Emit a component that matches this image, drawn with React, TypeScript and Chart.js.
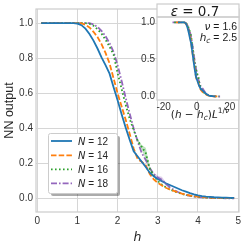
import React, { useEffect, useRef } from "react";
import { Chart, registerables } from "chart.js";

Chart.register(...registerables);

// ---------- data ----------
const hValues = [
  0.1, 0.2, 0.3, 0.4, 0.5, 0.6, 0.7, 0.8, 0.9, 1.0,
  1.1, 1.2, 1.3, 1.4, 1.5, 1.6, 1.7, 1.8, 1.9, 2.0,
  2.1, 2.2, 2.3, 2.4, 2.5, 2.6, 2.7, 2.8, 2.9, 3.0,
  3.1, 3.2, 3.3, 3.4, 3.5, 3.6, 3.7, 3.8, 3.9, 4.0,
  4.1, 4.2, 4.3, 4.4, 4.5, 4.6, 4.7, 4.8, 4.9,
];

const outN12 = [
  1, 1, 1, 1, 1, 1, 1, 1, 1, 0.997,
  0.988, 0.968, 0.938, 0.9, 0.855, 0.805, 0.76, 0.712, 0.635, 0.56,
  0.48, 0.405, 0.335, 0.27, 0.24, 0.21, 0.18, 0.148, 0.128, 0.112,
  0.1, 0.088, 0.078, 0.068, 0.058, 0.048, 0.04, 0.032, 0.025, 0.019,
  0.015, 0.012, 0.01, 0.008, 0.007, 0.006, 0.006, 0.005, 0.005,
];
const outN14 = [
  1, 1, 1, 1, 1, 1, 1, 1, 1, 1,
  0.998, 0.99, 0.975, 0.95, 0.92, 0.88, 0.83, 0.77, 0.685, 0.6,
  0.525, 0.45, 0.37, 0.285, 0.225, 0.21, 0.19, 0.14, 0.11, 0.09,
  0.075, 0.062, 0.052, 0.044, 0.036, 0.029, 0.023, 0.018, 0.014, 0.011,
  0.009, 0.007, 0.006, 0.005, 0.005, 0.004, 0.004, 0.004, 0.004,
];
const outN16 = [
  1, 1, 1, 1, 1, 1, 1, 1, 1, 1,
  1, 1, 0.996, 0.985, 0.965, 0.94, 0.905, 0.865, 0.82, 0.715,
  0.625, 0.535, 0.455, 0.39, 0.33, 0.295, 0.26, 0.17, 0.13, 0.1,
  0.08, 0.065, 0.053, 0.043, 0.034, 0.027, 0.021, 0.017, 0.013, 0.01,
  0.008, 0.006, 0.005, 0.004, 0.004, 0.003, 0.003, 0.003, 0.003,
];
const outN18 = [
  1, 1, 1, 1, 1, 1, 1, 1, 1, 1,
  1, 1, 1, 0.992, 0.978, 0.955, 0.925, 0.885, 0.835, 0.76,
  0.67, 0.575, 0.485, 0.4, 0.325, 0.26, 0.22, 0.175, 0.14, 0.12,
  0.108, 0.085, 0.065, 0.05, 0.038, 0.029, 0.022, 0.016, 0.012, 0.009,
  0.007, 0.005, 0.004, 0.003, 0.003, 0.003, 0.002, 0.002, 0.002,
];

// visible confidence bands
const greenBandH = [2.5, 2.6, 2.7, 2.8, 2.9];
const greenBandLo = [0.32, 0.28, 0.225, 0.16, 0.125];
const greenBandHi = [0.34, 0.305, 0.29, 0.185, 0.137];
const purpleBandH = [2.9, 3.0, 3.1, 3.2, 3.3];
const purpleBandLo = [0.135, 0.112, 0.097, 0.078, 0.061];
const purpleBandHi = [0.146, 0.13, 0.125, 0.094, 0.07];

const systemSizes = [12, 14, 16, 18];
const seriesOut = [outN12, outN14, outN16, outN18];
const seriesColors = ["#1f77b4", "#ff7f0e", "#2ca02c", "#9467bd"];
const seriesDash = [[], [5.5, 2.2], [1.6, 2.4], [6, 2, 1.6, 2]];

const xTicks = [0, 1, 2, 3, 4, 5];
const yTicks = [0, 0.2, 0.4, 0.6, 0.8, 1.0];
const insetXTicks = [-20, 0, 20];
const insetYTicks = [0, 0.5, 1.0];

const hCritical = 2.5;
const nuExponent = 1.6;
const epsilonText = "0.7";
const nuText = "1.6";
const hcText = "2.5";

// ---------- helpers ----------
type Seg = { t: string; f: string; dy?: number };
function drawRich(
  ctx: CanvasRenderingContext2D,
  segs: Seg[],
  x: number,
  y: number,
  align: "left" | "center" | "right",
  color: string
) {
  ctx.save();
  ctx.fillStyle = color;
  ctx.textBaseline = "alphabetic";
  ctx.textAlign = "left";
  let w = 0;
  for (const s of segs) {
    ctx.font = s.f;
    w += ctx.measureText(s.t).width;
  }
  let cx = align === "left" ? x : align === "center" ? x - w / 2 : x - w;
  for (const s of segs) {
    ctx.font = s.f;
    ctx.fillText(s.t, cx, y + (s.dy || 0));
    cx += ctx.measureText(s.t).width;
  }
  ctx.restore();
}

const TICK_COLOR = "#333333";
const GRID_COLOR = "#d6d6d6";
const FRAME_COLOR = "#cccccc";

const framePlugin = {
  id: "frame",
  afterDatasetsDraw(chart: any) {
    const { ctx, chartArea: a } = chart;
    ctx.save();
    ctx.strokeStyle = FRAME_COLOR;
    ctx.lineWidth = 1.2;
    ctx.strokeRect(a.left, a.top, a.right - a.left, a.bottom - a.top);
    ctx.restore();
  },
};

const legendPlugin = {
  id: "customLegend",
  afterDraw(chart: any) {
    const ctx: CanvasRenderingContext2D = chart.ctx;
    const bx = 48, by = 133, bw = 69, bh = 60;
    ctx.save();
    ctx.fillStyle = "rgba(0,0,0,0.33)";
    ctx.beginPath();
    (ctx as any).roundRect(bx + 3, by + 3, bw, bh, 2);
    ctx.fill();
    ctx.fillStyle = "#ffffff";
    ctx.strokeStyle = FRAME_COLOR;
    ctx.lineWidth = 1;
    ctx.beginPath();
    (ctx as any).roundRect(bx + 0.5, by + 0.5, bw, bh, 2);
    ctx.fill();
    ctx.stroke();
    const rows = [141, 155.3, 169.3, 183.3];
    systemSizes.forEach((n, i) => {
      const y = rows[i];
      ctx.strokeStyle = seriesColors[i];
      ctx.lineWidth = 1.8;
      ctx.setLineDash(seriesDash[i]);
      ctx.beginPath();
      ctx.moveTo(51, y);
      ctx.lineTo(72, y);
      ctx.stroke();
      ctx.setLineDash([]);
      drawRich(
        ctx,
        [
          { t: "N", f: "italic 10px 'DejaVu Sans'" },
          { t: " = " + n, f: "10px 'Liberation Sans'" },
        ],
        78,
        y + 3.6,
        "left",
        "#262626"
      );
    });
    ctx.restore();
  },
};

const insetPlugin = {
  id: "insetDecor",
  beforeDraw(chart: any) {
    const { ctx, chartArea: a } = chart;
    ctx.save();
    ctx.fillStyle = "#ffffff";
    ctx.fillRect(a.left, a.top, a.right - a.left, a.bottom - a.top);
    // title box
    ctx.fillRect(a.left, 4, a.right - a.left, a.top - 4);
    ctx.strokeStyle = FRAME_COLOR;
    ctx.lineWidth = 1.2;
    ctx.strokeRect(a.left, 4, a.right - a.left, a.top - 4);
    ctx.restore();
  },
  afterDatasetsDraw(chart: any) {
    const { ctx, chartArea: a } = chart;
    ctx.save();
    ctx.strokeStyle = FRAME_COLOR;
    ctx.lineWidth = 1.2;
    ctx.strokeRect(a.left, a.top, a.right - a.left, a.bottom - a.top);
    ctx.restore();
  },
  afterDraw(chart: any) {
    const ctx: CanvasRenderingContext2D = chart.ctx;
    const a = chart.chartArea;
    const mid = (a.left + a.right) / 2;
    const dark = "#1a1a1a";
    // title
    drawRich(
      ctx,
      [
        { t: "ε", f: "italic 13.5px 'DejaVu Sans'" },
        { t: " = " + epsilonText, f: "13.5px 'DejaVu Sans'" },
      ],
      mid - 3,
      15.5,
      "center",
      dark
    );
    // annotations
    drawRich(
      ctx,
      [
        { t: "ν", f: "italic 10.5px 'DejaVu Sans'" },
        { t: " = " + nuText, f: "10.5px 'Liberation Sans'" },
      ],
      a.right - 2,
      29.5,
      "right",
      dark
    );
    drawRich(
      ctx,
      [
        { t: "h", f: "italic 10.5px 'DejaVu Sans'" },
        { t: "c", f: "italic 7.5px 'DejaVu Sans'", dy: 2.5 },
        { t: " = " + hcText, f: "10.5px 'Liberation Sans'" },
      ],
      a.right - 2,
      40.5,
      "right",
      dark
    );
    // x label
    drawRich(
      ctx,
      [
        { t: "(", f: "10.5px 'DejaVu Sans'" },
        { t: "h", f: "italic 10.5px 'DejaVu Sans'" },
        { t: " − ", f: "10.5px 'DejaVu Sans'" },
        { t: "h", f: "italic 10.5px 'DejaVu Sans'" },
        { t: "c", f: "italic 7.5px 'DejaVu Sans'", dy: 2.5 },
        { t: ")", f: "10.5px 'DejaVu Sans'" },
        { t: "L", f: "italic 10.5px 'DejaVu Sans'" },
        { t: "1/", f: "7.5px 'DejaVu Sans'", dy: -4.5 },
        { t: "ν", f: "italic 7.5px 'DejaVu Sans'", dy: -4.5 },
      ],
      mid + 2,
      117.5,
      "center",
      dark
    );
  },
};

export default function App() {
  const mainRef = useRef<HTMLCanvasElement | null>(null);
  const insetRef = useRef<HTMLCanvasElement | null>(null);

  useEffect(() => {
    document.body.style.margin = "0";
    const tickFont = { family: "'Liberation Sans'", size: 10 };

    const bandSet = (hs: number[], vs: number[], color: string, fill: any) => ({
      data: hs.map((h, i) => ({ x: h, y: vs[i] })),
      borderWidth: 0,
      borderColor: "rgba(0,0,0,0)",
      backgroundColor: color,
      pointRadius: 0,
      fill,
    });

    const mainDatasets: any[] = [
      bandSet(greenBandH, greenBandLo, "rgba(44,160,44,0.3)", false),
      bandSet(greenBandH, greenBandHi, "rgba(44,160,44,0.3)", "-1"),
      bandSet(purpleBandH, purpleBandLo, "rgba(148,103,189,0.3)", false),
      bandSet(purpleBandH, purpleBandHi, "rgba(148,103,189,0.3)", "-1"),
      ...seriesOut.map((vals, i) => ({
        label: "N = " + systemSizes[i],
        data: hValues.map((h, j) => ({ x: h, y: vals[j] })),
        borderColor: seriesColors[i],
        borderWidth: 1.8,
        borderDash: seriesDash[i],
        pointRadius: 0,
        fill: false,
      })),
    ];

    const main = new Chart(mainRef.current as HTMLCanvasElement, {
      type: "line",
      data: { datasets: mainDatasets },
      options: {
        animation: false,
        responsive: false,
        devicePixelRatio: 1,
        layout: { padding: { top: 4, right: 10, bottom: 0, left: 0 } },
        plugins: { legend: { display: false }, tooltip: { enabled: false } },
        elements: { line: { tension: 0 }, point: { radius: 0 } },
        scales: {
          x: {
            type: "linear",
            min: -0.03,
            max: 5.02,
            afterBuildTicks: (s: any) => {
              s.ticks = xTicks.map((v) => ({ value: v }));
            },
            afterFit: (s: any) => {
              s.height = 37;
            },
            ticks: {
              font: tickFont,
              color: TICK_COLOR,
              padding: 3,
              maxRotation: 0,
              autoSkip: false,
              callback: (v: any) => String(v),
            },
            grid: { color: GRID_COLOR, drawTicks: false, lineWidth: 1 },
            border: { display: false },
            title: {
              display: true,
              text: "h",
              color: "#262626",
              font: { family: "'DejaVu Sans'", size: 12.5, style: "italic" },
              padding: { top: 4, bottom: 4 },
            },
          },
          y: {
            type: "linear",
            min: -0.076,
            max: 1.08,
            afterBuildTicks: (s: any) => {
              s.ticks = yTicks.map((v) => ({ value: v }));
            },
            afterFit: (s: any) => {
              s.width = 36;
            },
            ticks: {
              font: tickFont,
              color: TICK_COLOR,
              padding: 3,
              autoSkip: false,
              callback: (v: any) => Number(v).toFixed(1),
            },
            grid: { color: GRID_COLOR, drawTicks: false, lineWidth: 1 },
            border: { display: false },
            title: {
              display: true,
              text: "NN output",
              color: "#262626",
              font: { family: "'Liberation Sans'", size: 12.5 },
              padding: { top: 2, bottom: 2 },
            },
          },
        },
      } as any,
      plugins: [framePlugin, legendPlugin],
    });

    const insetDatasets: any[] = seriesOut.map((vals, i) => ({
      data: hValues.map((h, j) => ({
        x: (h - hCritical) * Math.pow(systemSizes[i], 1 / nuExponent),
        y: vals[j],
      })),
      borderColor: seriesColors[i],
      borderWidth: 1.8,
      borderDash: seriesDash[i],
      pointRadius: 0,
      fill: false,
    }));

    const inset = new Chart(insetRef.current as HTMLCanvasElement, {
      type: "line",
      data: { datasets: insetDatasets },
      options: {
        animation: false,
        responsive: false,
        devicePixelRatio: 1,
        layout: { padding: { top: 17, right: 10, bottom: 0, left: 0 } },
        plugins: { legend: { display: false }, tooltip: { enabled: false } },
        elements: { line: { tension: 0 }, point: { radius: 0 } },
        scales: {
          x: {
            type: "linear",
            min: -24,
            max: 25.6,
            afterBuildTicks: (s: any) => {
              s.ticks = insetXTicks.map((v) => ({ value: v }));
            },
            afterFit: (s: any) => {
              s.height = 24;
            },
            ticks: {
              font: tickFont,
              color: TICK_COLOR,
              padding: 1,
              maxRotation: 0,
              autoSkip: false,
              callback: (v: any) => String(v),
            },
            grid: { display: false, drawTicks: false },
            border: { display: false },
          },
          y: {
            type: "linear",
            min: -0.045,
            max: 1.073,
            afterBuildTicks: (s: any) => {
              s.ticks = insetYTicks.map((v) => ({ value: v }));
            },
            afterFit: (s: any) => {
              s.width = 32;
            },
            ticks: {
              font: tickFont,
              color: TICK_COLOR,
              padding: 2,
              autoSkip: false,
              callback: (v: any) => Number(v).toFixed(1),
            },
            grid: { display: false, drawTicks: false },
            border: { display: false },
          },
        },
      } as any,
      plugins: [insetPlugin],
    });

    return () => {
      main.destroy();
      inset.destroy();
    };
  }, []);

  return (
    <div style={{ position: "fixed", left: 0, top: 0, width: 249, height: 249, background: "#fff" }}>
      <canvas ref={mainRef} width={249} height={249} style={{ position: "absolute", left: 0, top: 0 }} />
      <canvas ref={insetRef} width={124} height={124} style={{ position: "absolute", left: 125, top: 0 }} />
    </div>
  );
}
